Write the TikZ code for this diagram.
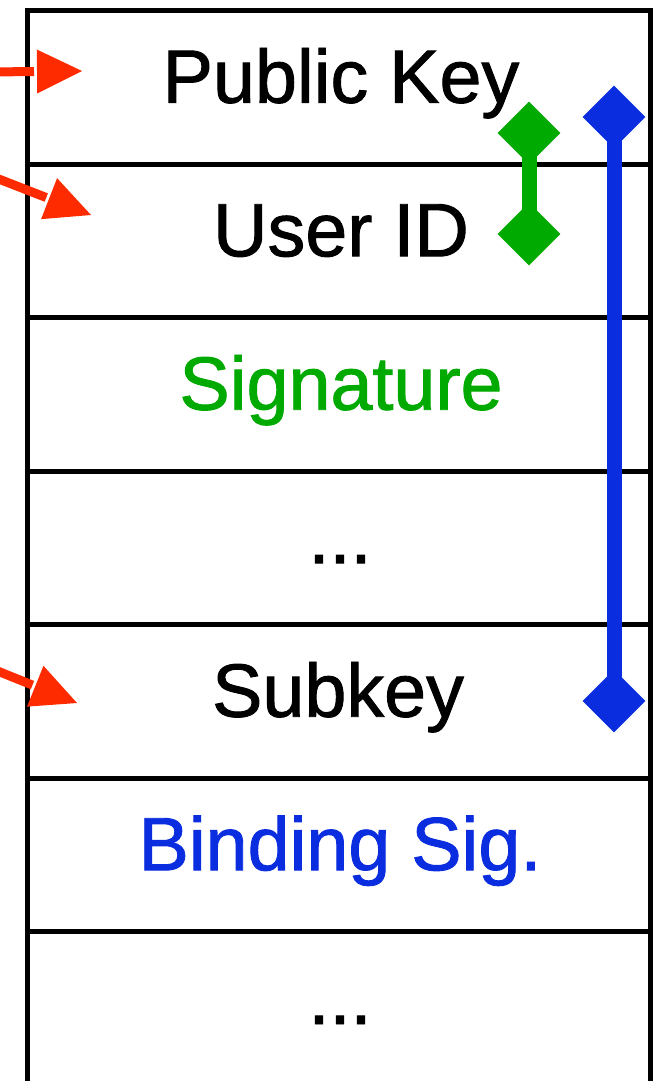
\documentclass[tikz,border=0pt]{standalone}
\usepackage{fontspec}
\setmainfont{Liberation Sans}
\newfontfamily\labelfont{Liberation Sans}[FakeBold=1.2]
\usetikzlibrary{calc,shapes.geometric}

\definecolor{keyred}{HTML}{FF2B00}
\definecolor{siggreen}{HTML}{00AA00}
\definecolor{sigblue}{HTML}{0A2DE0}

\tikzset{
  grid line/.style={line width=5pt, black, line join=miter},
  label text/.style={anchor=base, inner sep=0pt, font=\labelfont\fontsize{75.5}{90}\selectfont},
  marker/.style={diamond, fill=#1, draw=none, inner sep=0pt, minimum width=63pt, minimum height=63pt},
  span line/.style={line width=15pt, draw=#1},
  pointer/.style={line width=9pt, draw=keyred},
  pointer head/.style={fill=keyred, draw=none}
}

% a straight red pointer: shaft from #1 to the head, filled triangular head ending at #2
\newcommand{\redpointer}[2]{%
  \coordinate (hb) at ($(#2)!45pt!(#1)$);
  \draw[pointer] (#1) -- ($(hb)!-3pt!(#2)$);
  \fill[pointer head] (#2) -- ($(hb)!22pt!90:(#2)$) -- ($(hb)!22pt!-90:(#2)$) -- cycle;
}

\begin{document}
\begin{tikzpicture}[x=1pt,y=-1pt]
  \useasboundingbox (0,0) rectangle (665,1081);
  \fill[white] (0,0) rectangle (665,1081);

  % record table: outer frame (open at the bottom) and row separators
  \draw[grid line] (27,1081) -- (27,10.5) -- (650.5,10.5) -- (650.5,1081);
  \foreach \yy in {164,317.5,471,624.5,778,931.5}
    \draw[grid line] (24.5,\yy) -- (653,\yy);

  % row labels
  \node[label text] (pk)   at (341,102.7) {Public Key};
  \node[label text] (uid)  at (341,256.2) {User ID};
  \node[label text, text=siggreen] (sig) at (341,409.7) {Signature};
  \node[label text] (dots1) at (340,563.2) {...};
  \node[label text] (sub)  at (338,716.7) {Subkey};
  \node[label text, text=sigblue] (bind) at (340,870.2) {Binding Sig.};
  \node[label text] (dots2) at (340,1024) {...};

  % green span: public key + user id covered by the signature
  \node[marker=siggreen] (g1) at (529,133) {};
  \node[marker=siggreen] (g2) at (529,234) {};
  \draw[span line=siggreen] (g1.center) -- (g2.center);

  % blue span: public key .. subkey covered by the binding signature
  \node[marker=sigblue] (b1) at (614,117) {};
  \node[marker=sigblue] (b2) at (614,701) {};
  \draw[span line=sigblue] (b1.center) -- (b2.center);

  % red pointers coming in from the left
  \coordinate (t1) at (-10,72);   \coordinate (p1) at (82,71);
  \coordinate (t2) at (-10,175.6); \coordinate (p2) at (91,215);
  \coordinate (t3) at (-10,668);  \coordinate (p3) at (77,703);
  \redpointer{t1}{p1}
  \redpointer{t2}{p2}
  \redpointer{t3}{p3}
\end{tikzpicture}
\end{document}
